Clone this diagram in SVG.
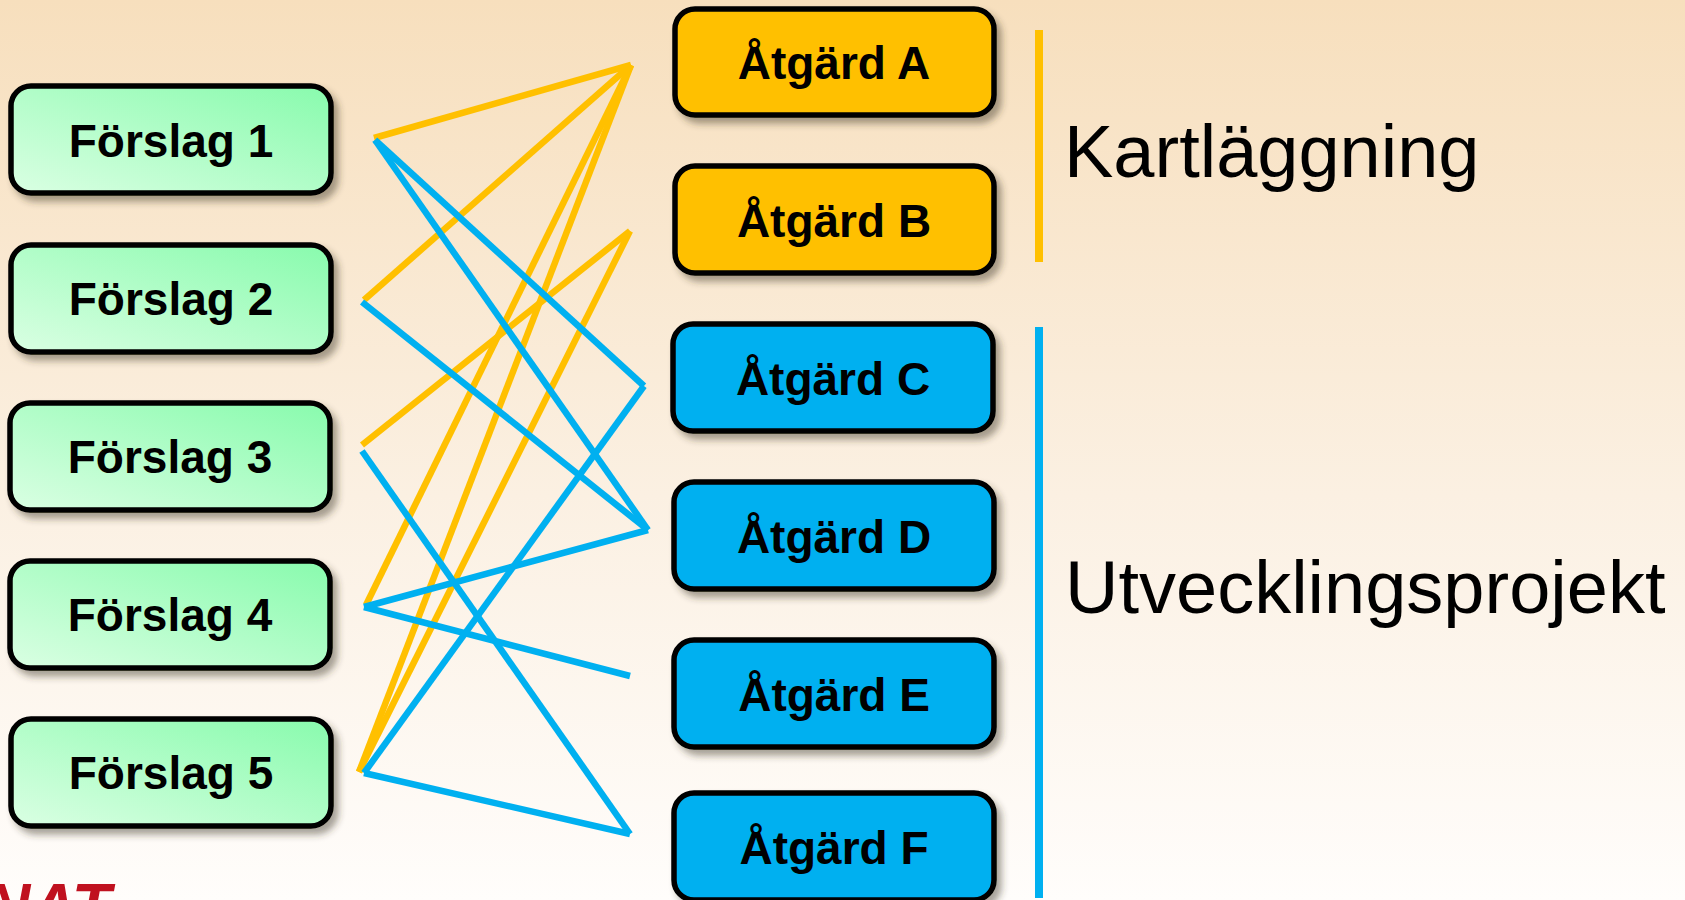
<svg xmlns="http://www.w3.org/2000/svg" width="1685" height="900" viewBox="0 0 1685 900">
<defs>
<linearGradient id="bg" x1="0" y1="0" x2="0" y2="1">
<stop offset="0" stop-color="#F7DFBD"/>
<stop offset="0.55" stop-color="#FBF0E2"/>
<stop offset="1" stop-color="#FFFDFB"/>
</linearGradient>
<linearGradient id="green" x1="0" y1="1" x2="1" y2="0">
<stop offset="0" stop-color="#DAFFE3"/>
<stop offset="1" stop-color="#88FBAD"/>
</linearGradient>
<filter id="sh" x="-10%" y="-20%" width="125%" height="150%">
<feDropShadow dx="5" dy="6" stdDeviation="3.5" flood-color="#3a3020" flood-opacity="0.45"/>
</filter>
<style>
.box{stroke:#000;stroke-width:5.5;filter:url(#sh)}
.g{fill:url(#green)}
.o{fill:#FFC000}
.b{fill:#00B0F0}
.lbl{font-family:"Liberation Sans",Arial,sans-serif;font-weight:bold;font-size:46px;text-anchor:middle;fill:#000}
.big{font-family:"Liberation Sans",Arial,sans-serif;font-size:74px;fill:#000}
.co{stroke:#FFC000;stroke-width:6.5;fill:none}
.cb{stroke:#00B0F0;stroke-width:6.5;fill:none}
</style>
</defs>
<rect width="1685" height="900" fill="url(#bg)"/>

<g id="forslag1"><rect class="box g" x="11" y="86" width="320" height="107" rx="20"/><text class="lbl" x="171" y="157">Förslag 1</text></g>
<g id="forslag2"><rect class="box g" x="11" y="245" width="320" height="107" rx="20"/><text class="lbl" x="171" y="315">Förslag 2</text></g>
<g id="forslag3"><rect class="box g" x="10" y="403" width="320" height="107" rx="20"/><text class="lbl" x="170" y="473">Förslag 3</text></g>
<g id="forslag4"><rect class="box g" x="10" y="561" width="320" height="107" rx="20"/><text class="lbl" x="170" y="631">Förslag 4</text></g>
<g id="forslag5"><rect class="box g" x="11" y="719" width="320" height="107" rx="20"/><text class="lbl" x="171" y="789">Förslag 5</text></g>

<g id="atgardA"><rect class="box o" x="675" y="9" width="319" height="106" rx="20"/><text class="lbl" x="834" y="79">Åtgärd A</text></g>
<g id="atgardB"><rect class="box o" x="675" y="166" width="319" height="107" rx="20"/><text class="lbl" x="834" y="237">Åtgärd B</text></g>
<g id="atgardC"><rect class="box b" x="673" y="324" width="320" height="107" rx="20"/><text class="lbl" x="833" y="395">Åtgärd C</text></g>
<g id="atgardD"><rect class="box b" x="674" y="482" width="320" height="107" rx="20"/><text class="lbl" x="834" y="553">Åtgärd D</text></g>
<g id="atgardE"><rect class="box b" x="674" y="640" width="320" height="107" rx="20"/><text class="lbl" x="834" y="711">Åtgärd E</text></g>
<g id="atgardF"><rect class="box b" x="674" y="793" width="320" height="107" rx="20"/><text class="lbl" x="834" y="864">Åtgärd F</text></g>

<g id="connectors">
<line class="co" x1="374" y1="138" x2="631" y2="65"/>
<line class="co" x1="364" y1="300" x2="631" y2="65"/>
<line class="co" x1="362" y1="445" x2="630" y2="231"/>
<line class="co" x1="366" y1="605" x2="631" y2="65"/>
<line class="co" x1="359" y1="772" x2="631" y2="65"/>
<line class="co" x1="359" y1="772" x2="630" y2="231"/>
<line class="cb" x1="375" y1="140" x2="644" y2="386"/>
<line class="cb" x1="375" y1="140" x2="648" y2="530"/>
<line class="cb" x1="362" y1="302" x2="648" y2="530"/>
<line class="cb" x1="362" y1="451" x2="630" y2="834"/>
<line class="cb" x1="364" y1="607" x2="648" y2="530"/>
<line class="cb" x1="364" y1="607" x2="630" y2="676"/>
<line class="cb" x1="364" y1="773" x2="644" y2="386"/>
<line class="cb" x1="364" y1="773" x2="630" y2="834"/>
</g>

<g id="groups">
<rect x="1035" y="30" width="8" height="232" fill="#FFC000"/>
<rect x="1035" y="327" width="8" height="571" fill="#00B0F0"/>
<text class="big" x="1064" y="177">Kartläggning</text>
<text class="big" x="1065" y="613">Utvecklingsprojekt</text>
</g>

<text x="-16" y="929" font-family="'Liberation Sans',Arial,sans-serif" font-style="italic" font-weight="bold" font-size="64" fill="#C0111F">NAT</text>
</svg>
